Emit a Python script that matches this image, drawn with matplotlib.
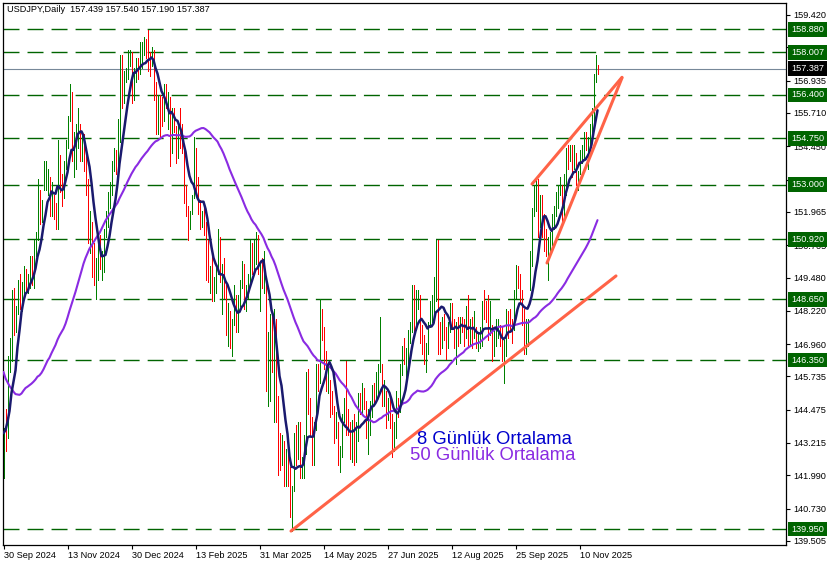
import matplotlib
matplotlib.use("Agg")
import matplotlib.pyplot as plt
import matplotlib.transforms as mtransforms
import numpy as np
import pandas as pd

plt.rcParams['font.family'] = ['Liberation Sans', 'DejaVu Sans']

# ---------------- data ----------------
symbol_title = "USDJPY,Daily"
last_ohlc = [157.439, 157.540, 157.190, 157.387]

date_labels = ["30 Sep 2024", "13 Nov 2024", "30 Dec 2024", "13 Feb 2025", "31 Mar 2025",
               "14 May 2025", "27 Jun 2025", "12 Aug 2025", "25 Sep 2025", "10 Nov 2025"]
date_label_bars = [0, 32, 64, 96, 128, 160, 192, 224, 256, 288]

price_ticks = [159.420, 158.195, 156.935, 155.710, 154.450, 153.190, 151.965, 150.705,
               149.480, 148.220, 146.960, 145.735, 144.475, 143.215, 141.990, 140.730, 139.505]
level_prices = [158.880, 158.007, 156.400, 154.750, 153.000, 150.920, 148.650, 146.350, 139.950]
current_price = 157.387

# closes before the first visible bar (needed for the moving averages)
closes_before_chart = [
    155.6, 153.9, 153.9, 153.8, 154.0, 152.7, 150.0,
    149.4, 146.5, 144.2, 144.3, 146.7, 147.2, 146.6, 147.2, 146.8, 147.3, 149.3,
    147.6, 146.6, 145.2, 145.3, 146.3, 144.4, 144.5, 143.9, 144.6, 145.0, 146.2,
    147.0, 145.4, 143.7, 143.4, 142.3, 143.1, 142.4, 142.4, 141.8, 140.8, 140.6,
    142.4, 142.3, 142.6, 143.9, 143.6, 143.2, 144.8, 144.8, 142.2]

highs = [
    # Sep 30 - Oct 2024
    143.8, 144.5, 146.5, 147.2, 149.0, 149.1, 148.4, 149.4, 149.6, 149.3, 149.9, 149.8,
    149.6, 150.3, 150.3, 150.9, 151.2, 153.2, 152.8, 152.4, 153.9, 153.9, 153.6, 153.3,
    # Nov 2024
    153.1, 152.6, 152.3, 154.7, 154.1, 153.4, 153.9, 154.7, 155.6, 156.8, 156.5, 155.0,
    155.3, 155.9, 155.3, 155.0, 154.9, 154.2, 153.2, 152.0, 151.6,
    # Dec 2024
    150.8, 150.2, 151.0, 151.1, 150.5, 151.3, 152.0, 152.7, 153.1, 153.9, 154.4, 154.3,
    155.5, 157.9, 157.9, 157.3, 157.4, 158.1, 158.1, 158.0, 157.4,
    # Jan 2025
    157.8, 157.8, 158.4, 158.4, 158.6, 158.5, 158.87, 158.0, 158.2, 158.1, 156.9, 156.4,
    156.4, 156.3, 156.8, 156.8, 156.5, 156.3, 155.9, 155.9, 155.2, 155.4,
    # Feb 2025
    155.9, 155.3, 154.5, 153.0, 152.2, 152.0, 152.6, 154.8, 154.4, 153.3, 152.4, 152.0,
    152.2, 151.6, 150.9, 149.9, 150.4, 149.5, 150.0, 151.3,
    # Mar 2025
    151.0, 150.0, 150.2, 149.2, 148.5, 148.2, 147.9, 149.2, 148.8, 148.8, 149.4, 150.1,
    150.0, 149.2, 149.6, 150.9, 150.8, 150.9, 151.2, 151.1, 150.1,
    # Apr 2025
    150.2, 150.5, 149.3, 147.4, 148.1, 148.2, 148.3, 147.9, 145.0, 143.6, 143.5, 143.3,
    143.0, 142.9, 142.3, 141.6, 143.6, 143.9, 144.0, 144.0, 142.7, 143.5,
    # May 2025
    145.9, 146.0, 144.9, 144.2, 144.0, 146.2, 146.2, 148.65, 148.3, 147.6, 146.7, 146.1,
    145.6, 145.2, 144.6, 144.4, 144.0, 143.1, 144.3, 144.9, 146.3, 144.5,
    # Jun 2025
    144.0, 144.1, 144.3, 144.0, 145.1, 145.1, 145.5, 145.3, 144.8, 144.5, 144.8, 145.4,
    145.5, 145.9, 146.2, 148.0, 146.2, 145.6, 145.2, 144.9, 144.9,
    # Jul 2025
    144.3, 144.0, 145.2, 144.9, 146.2, 146.9, 147.2, 146.8, 147.5, 147.8, 149.2, 149.2,
    149.0, 149.0, 148.8, 147.7, 147.3, 147.0, 147.8, 148.6, 148.8, 149.5, 150.9,
    # Aug 2025
    150.9, 147.8, 148.0, 148.1, 147.6, 147.8, 148.5, 148.5, 147.9, 147.8, 148.0, 148.0,
    148.0, 147.9, 148.4, 148.8, 147.9, 148.0, 148.2, 147.6, 147.4,
    # Sep 2025
    147.6, 148.6, 149.0, 148.6, 148.8, 148.6, 147.7, 147.6, 147.9, 147.9, 147.7, 147.6,
    147.1, 148.3, 148.2, 148.3, 147.9, 149.0, 149.96, 149.9, 149.6, 149.0,
    # Oct 2025
    148.3, 147.9, 147.9, 150.5, 152.1, 153.0, 153.3, 153.2, 152.6, 152.6, 151.9, 151.3,
    151.0, 151.2, 151.9, 152.2, 152.7, 153.0, 153.3, 153.0, 153.4, 154.4, 154.5,
    # Nov 2025
    154.5, 154.5, 154.5, 154.2, 153.5, 154.3, 154.5, 155.0, 155.0, 154.8, 155.3, 155.9,
    157.2, 157.9, 157.54]

lows = [
    141.9, 142.9, 143.4, 145.9, 146.3, 147.3, 147.4, 148.1, 148.3, 148.2, 148.9, 148.9,
    148.9, 149.1, 149.2, 149.1, 150.3, 150.9, 151.5, 151.6, 152.8, 152.8, 152.6, 151.8,
    151.8, 151.7, 151.3, 151.3, 152.7, 152.2, 152.5, 153.6, 154.4, 155.4, 153.9, 153.3,
    153.6, 154.4, 153.9, 153.9, 153.5, 152.6, 150.8, 150.4, 149.5,
    149.2, 148.65, 149.4, 149.8, 149.4, 149.7, 151.0, 151.4, 152.1, 152.6, 153.5, 153.4,
    153.4, 154.6, 155.9, 156.1, 156.9, 157.0, 157.5, 156.1, 156.2,
    156.9, 157.0, 157.2, 157.4, 157.9, 157.8, 157.3, 157.1, 157.5, 156.2, 154.9, 154.9,
    154.8, 155.2, 155.4, 155.9, 155.1, 153.7, 154.2, 155.0, 153.8, 154.0,
    154.4, 154.2, 152.3, 151.8, 150.9, 151.3, 151.9, 152.5, 152.7, 151.9, 151.3, 151.4,
    151.1, 149.4, 149.3, 148.9, 148.6, 148.6, 148.9, 149.6,
    149.3, 148.1, 148.7, 147.3, 146.9, 146.8, 146.5, 147.7, 147.4, 147.4, 148.4, 149.1,
    148.3, 148.2, 148.7, 149.2, 149.6, 149.6, 150.0, 149.6, 148.2,
    149.1, 148.9, 145.2, 144.6, 144.8, 145.9, 144.0, 144.0, 142.0, 142.2, 142.4, 141.6,
    141.6, 141.6, 140.4, 139.89, 141.4, 142.4, 142.6, 141.9, 141.9, 141.9,
    142.8, 144.3, 143.5, 142.4, 142.4, 143.7, 145.2, 145.5, 147.1, 146.0, 145.2, 145.1,
    144.2, 144.3, 143.2, 143.4, 142.4, 142.1, 142.7, 144.0, 143.5, 143.5,
    142.6, 142.5, 142.4, 142.5, 143.3, 144.3, 144.3, 144.5, 143.4, 142.8, 143.5, 144.2,
    144.7, 144.8, 145.0, 145.9, 144.6, 144.6, 143.8, 144.1, 143.8,
    142.7, 142.9, 143.4, 144.2, 144.4, 145.8, 146.2, 145.6, 146.1, 147.0, 147.4, 147.2,
    147.5, 148.3, 147.0, 146.6, 146.2, 145.9, 146.6, 147.6, 147.8, 147.8, 148.6,
    146.6, 146.6, 146.8, 147.1, 146.4, 146.8, 147.4, 147.6, 146.8, 146.2, 146.9, 147.0,
    147.4, 146.9, 147.2, 146.9, 146.9, 146.8, 147.2, 146.8, 146.7,
    146.8, 146.9, 147.9, 147.8, 147.1, 147.3, 146.3, 146.5, 146.9, 147.2, 146.9, 146.3,
    145.5, 146.5, 147.2, 147.4, 147.0, 147.5, 148.7, 149.1, 148.5, 147.7,
    146.6, 146.6, 146.9, 149.0, 149.9, 151.8, 152.0, 151.0, 151.4, 151.0, 150.5, 150.3,
    149.4, 150.3, 150.7, 151.3, 151.8, 152.1, 152.6, 151.5, 151.7, 152.6, 153.6,
    153.9, 153.3, 153.6, 153.0, 152.8, 153.4, 153.8, 154.0, 154.3, 153.6, 154.4, 154.6,
    155.2, 156.9, 157.19]

closes = [
    143.6, 143.5, 146.4, 146.9, 148.7, 148.2, 148.2, 149.3, 148.6, 149.1, 149.7, 149.2,
    149.2, 150.1, 149.5, 150.8, 151.0, 152.7, 151.8, 152.3, 153.3, 153.4, 153.4, 152.0,
    153.0, 152.2, 151.6, 154.6, 152.9, 152.6, 153.7, 154.6, 155.5, 156.3, 154.3, 154.6,
    154.7, 155.4, 154.5, 154.8, 154.2, 153.1, 151.1, 151.6, 149.8,
    149.6, 149.6, 150.6, 150.0, 150.0, 151.2, 151.9, 152.4, 152.7, 153.7, 154.1, 153.5,
    154.7, 157.3, 156.4, 157.1, 157.2, 157.8, 157.9, 156.9, 157.2,
    157.4, 157.3, 157.6, 158.0, 158.3, 158.1, 157.7, 157.5, 158.0, 156.5, 155.2, 156.3,
    155.6, 155.5, 156.5, 156.0, 156.0, 154.5, 155.6, 155.2, 154.3, 155.2,
    154.8, 154.4, 152.6, 151.9, 151.4, 152.0, 152.5, 154.4, 152.8, 152.3, 151.5, 151.9,
    151.4, 149.9, 149.3, 149.7, 149.0, 149.1, 149.8, 150.6,
    149.5, 149.8, 149.0, 147.9, 148.0, 147.3, 147.8, 148.6, 148.0, 148.6, 149.2, 149.3,
    148.7, 148.7, 149.3, 150.7, 149.9, 150.6, 151.0, 149.8, 149.9,
    149.6, 149.6, 146.1, 146.9, 147.8, 146.3, 147.8, 144.5, 143.5, 143.1, 143.2, 141.7,
    142.5, 142.2, 140.9, 141.4, 143.4, 142.6, 143.7, 142.0, 142.3, 143.1,
    145.4, 144.9, 143.7, 142.5, 143.8, 145.9, 145.4, 148.4, 147.5, 146.7, 145.7, 145.7,
    144.9, 144.5, 143.7, 143.9, 142.6, 142.8, 144.3, 144.8, 144.1, 144.0,
    142.7, 143.9, 142.7, 143.5, 144.9, 144.6, 144.9, 144.6, 143.5, 144.1, 144.8, 145.3,
    145.1, 145.5, 146.1, 146.1, 145.0, 145.2, 144.4, 144.6, 144.0,
    143.5, 143.6, 144.9, 144.5, 146.1, 146.6, 146.3, 146.3, 147.4, 147.7, 148.9, 147.8,
    148.6, 148.6, 147.4, 146.9, 146.5, 146.9, 147.7, 148.5, 148.5, 149.5, 150.7,
    147.4, 147.1, 147.6, 147.4, 147.1, 147.7, 148.2, 147.8, 147.4, 147.7, 147.2, 147.8,
    147.7, 147.3, 148.3, 146.9, 147.8, 147.4, 147.4, 146.9, 147.1,
    147.1, 148.4, 148.1, 148.0, 147.4, 147.5, 146.5, 147.4, 147.4, 147.7, 147.4, 146.5,
    146.8, 148.0, 147.9, 147.7, 147.6, 148.9, 149.8, 149.5, 148.6, 147.9,
    147.1, 147.2, 147.4, 150.3, 152.0, 152.7, 153.0, 151.2, 152.3, 151.8, 151.0, 150.4,
    150.6, 150.8, 151.9, 151.9, 152.6, 152.9, 152.9, 152.1, 152.7, 154.1, 154.0,
    154.2, 153.6, 154.1, 153.1, 153.4, 154.1, 154.1, 154.7, 154.5, 154.6, 155.2, 155.5,
    157.1, 157.5, 157.387]

# trend lines drawn on the chart: (bar index, price) anchors
trend_lines = [
    [(143.75, 139.88), (306.25, 149.54)],
    [(264.25, 153.02), (309.25, 157.06)],
    [(271.75, 150.03), (309.25, 157.04)],
]

legend_labels = ["8 Günlük Ortalama", "50 Günlük Ortalama"]

# ---------------- computation ----------------
n = len(closes)
bars = np.arange(n)
all_close = pd.Series(closes_before_chart + closes)
ma8 = all_close.rolling(8).mean().to_numpy()[len(closes_before_chart):]
ma50 = all_close.rolling(50).mean().to_numpy()[len(closes_before_chart):]
opens = [closes_before_chart[-1]] + closes[:-1]
opens[-1] = last_ohlc[0]
up = np.array(closes) >= np.array(opens)

# ---------------- figure ----------------
W, H = 832, 566
fig = plt.figure(figsize=(W / 100, H / 100), dpi=100)
L, R, T, B = 3, 786, 3, 545
ax = fig.add_axes([L / W, (H - B) / H, (R - L) / W, (B - T) / H])
ax.set_xlim(-0.25, (R - L) / 2 - 0.25)
ax.set_ylim(139.352, 159.874)

green = '#008000'
red = '#FF0000'
lvl_green = '#006400'

# horizontal levels
for p in level_prices:
    ax.axhline(p, color=lvl_green, lw=1.0, linestyle=(0, (11.5, 5.8)), zorder=1)
ax.axhline(current_price, color='#778899', lw=0.8, zorder=1)

# OHLC bars (high-low lines)
ax.vlines(bars[up], np.array(lows)[up], np.array(highs)[up], colors=green, lw=0.5,
          antialiased=False, zorder=2)
ax.vlines(bars[~up], np.array(lows)[~up], np.array(highs)[~up], colors=red, lw=0.5,
          antialiased=False, zorder=2)

# moving averages
ax.plot(bars, ma50, color='#8A2BE2', lw=1.5, zorder=3, solid_capstyle='round')
ax.plot(bars, ma8, color='#1A1A6E', lw=1.8, zorder=4, solid_capstyle='round')

# trend lines
for (x0, y0), (x1, y1) in trend_lines:
    ax.plot([x0, x1], [y0, y1], color='#FF6347', lw=2.2, zorder=5, solid_capstyle='round')

# axes styling
for s in ax.spines.values():
    s.set_color('black')
    s.set_linewidth(0.9)
ax.yaxis.tick_right()
ax.set_yticks(price_ticks)
ax.set_yticklabels([f"{v:.3f}" for v in price_ticks])
ax.tick_params(axis='y', length=3, width=0.8, pad=2, labelsize=6.6, colors='black')
ax.set_xticks(date_label_bars)
ax.set_xticklabels(date_labels, ha='left')
ax.tick_params(axis='x', length=3, width=0.8, pad=1, labelsize=6.6, colors='black')

# right-side price boxes
trans = mtransforms.blended_transform_factory(ax.transAxes, ax.transData)
trans = trans + mtransforms.ScaledTranslation(5 / 100, 0, fig.dpi_scale_trans)
for p in level_prices:
    ax.text(1, p, f"{p:.3f}", transform=trans, ha='left', va='center', fontsize=6.6,
            color='white', clip_on=False, zorder=10,
            bbox=dict(boxstyle='square,pad=0.3', fc=lvl_green, ec='none'))
ax.text(1, current_price, f"{current_price:.3f}", transform=trans, ha='left', va='center',
        fontsize=6.6, color='white', clip_on=False, zorder=11,
        bbox=dict(boxstyle='square,pad=0.3', fc='black', ec='none'))

# title
ax.text((7 - L) / (R - L), (B - 10) / (B - T),
        symbol_title + "  " + " ".join(f"{v:.3f}" for v in last_ohlc),
        transform=ax.transAxes, ha='left', va='center', fontsize=6.6, color='black', zorder=12)

# legend texts
ax.text((417 - L) / (R - L), (B - 439) / (B - T), legend_labels[0], transform=ax.transAxes,
        ha='left', va='center', fontsize=13.3, color='#0000CD', zorder=12)
ax.text((410 - L) / (R - L), (B - 456) / (B - T), legend_labels[1], transform=ax.transAxes,
        ha='left', va='center', fontsize=13.3, color='#8A2BE2', zorder=12)

fig.savefig('out.png', dpi=100, facecolor='white')
